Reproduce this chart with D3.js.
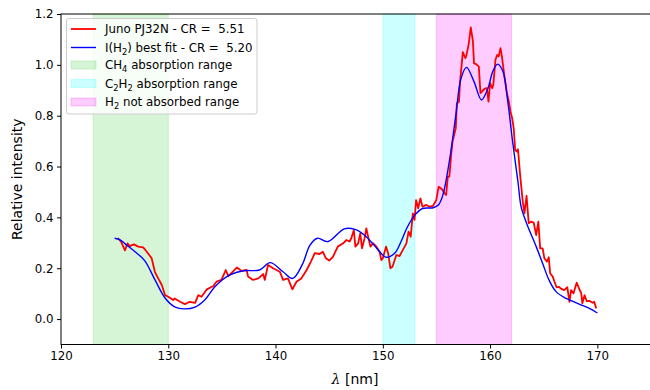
<!DOCTYPE html>
<html>
<head>
<meta charset="utf-8">
<script src="https://cdn.jsdelivr.net/npm/d3@7"></script>
<style>
  body { margin: 0; background: #fff; }
  text { font-family: "DejaVu Sans", sans-serif; }
</style>
</head>
<body>
<svg id="chart" width="650" height="390"></svg>
<script>
// Juno PJ32N spectrum (red)
var junoLambda = [125.3, 125.6, 125.96, 126.2, 126.4, 126.8, 127.2, 127.66, 128.0, 128.45,
  128.75, 129.06, 129.4, 129.7, 130.0, 130.46, 130.6, 131.1, 131.55, 132.0,
  132.5, 132.8, 133.1, 133.6, 134.2, 134.5, 134.96, 135.36, 135.6, 136.0,
  136.4, 136.8, 137.3, 137.44, 137.9, 138.4, 138.84, 139.0, 139.3, 139.77,
  140.4, 140.7, 141.16, 141.57, 141.95, 142.4, 142.9, 143.3, 143.65, 144.1,
  144.4, 144.7, 145.0, 145.35, 145.8, 146.3, 146.6, 146.9, 147.06, 147.3,
  147.44, 147.7, 147.9, 148.06, 148.3, 148.46, 148.6, 148.84, 149.1, 149.4,
  149.7, 149.86, 150.0, 150.3, 150.5, 150.7, 150.9, 151.26, 151.56, 151.87,
  152.2, 152.4, 152.6, 152.8, 152.96, 153.1, 153.3, 153.5, 153.7, 154.05,
  154.36, 154.67, 154.98, 155.2, 155.5, 155.75, 155.9, 156.06, 156.2, 156.4,
  156.5, 156.8, 156.9, 157.1, 157.2, 157.46, 157.7, 157.8, 158.0, 158.2,
  158.4, 158.5, 158.7, 158.95, 159.1, 159.3, 159.5, 159.7, 159.85, 160.0,
  160.2, 160.3, 160.5, 160.66, 160.8, 160.97, 161.1, 161.34, 161.56, 161.75,
  161.9, 162.06, 162.2, 162.34, 162.5, 162.6, 162.8, 163.05, 163.2, 163.4,
  163.6, 163.8, 164.07, 164.3, 164.5, 164.67, 164.9, 165.06, 165.3, 165.47,
  165.6, 165.84, 166.0, 166.2, 166.4, 166.6, 166.9, 167.2, 167.4, 167.55,
  167.77, 168.07, 168.3, 168.5, 168.6, 168.8, 169.0, 169.25, 169.56, 169.7,
  169.9];
var junoIntensity = [0.318, 0.305, 0.27, 0.298, 0.287, 0.294, 0.285, 0.282, 0.265, 0.239,
  0.186, 0.16, 0.134, 0.094, 0.088, 0.075, 0.081, 0.068, 0.059, 0.068,
  0.064, 0.094, 0.088, 0.117, 0.13, 0.147, 0.154, 0.193, 0.169, 0.186,
  0.203, 0.19, 0.193, 0.167, 0.154, 0.16, 0.177, 0.154, 0.213, 0.2,
  0.186, 0.154, 0.16, 0.117, 0.147, 0.16, 0.193, 0.226, 0.259, 0.256,
  0.265, 0.239, 0.23, 0.245, 0.285, 0.298, 0.311, 0.305, 0.318, 0.35,
  0.285, 0.298, 0.337, 0.278, 0.318, 0.357, 0.33, 0.285, 0.298, 0.285,
  0.265, 0.232, 0.239, 0.285, 0.259, 0.2, 0.206, 0.252, 0.248, 0.272,
  0.298, 0.344, 0.324, 0.416, 0.39, 0.468, 0.436, 0.475, 0.442, 0.449,
  0.442, 0.445, 0.468, 0.52, 0.512, 0.495, 0.488, 0.56, 0.56, 0.659,
  0.698, 0.75, 0.849, 0.855, 0.934, 1.05, 1.026, 1.039, 1.079, 1.147,
  1.092, 1.006, 1.003, 0.993, 0.889, 0.898, 0.906, 0.908, 0.855, 0.928,
  0.908, 0.921, 1.02, 1.039, 1.033, 1.066, 1.033, 0.954, 0.889, 0.855,
  0.816, 0.79, 0.75, 0.665, 0.659, 0.668, 0.567, 0.46, 0.416, 0.485,
  0.377, 0.383, 0.379, 0.33, 0.383, 0.278, 0.278, 0.239, 0.226, 0.243,
  0.18, 0.167, 0.147, 0.125, 0.127, 0.12, 0.114, 0.125, 0.068, 0.114,
  0.101, 0.143, 0.12, 0.101, 0.062, 0.094, 0.071, 0.072, 0.064, 0.068,
  0.042];

// I(H2) best fit (blue)
var fitLambda = [125.0, 125.5, 126.0, 126.9, 127.8, 128.75, 129.7, 130.6, 131.5, 132.5,
  133.4, 134.3, 135.0, 135.7, 137.0, 138.5, 139.5, 140.7, 141.6, 142.5,
  143.2, 143.9, 144.9, 146.4, 147.4, 148.3, 149.2, 149.9, 150.3, 151.1,
  151.7, 152.3, 153.0, 153.7, 154.7, 155.2, 155.6, 156.2, 156.8, 157.3,
  157.8, 158.5, 159.2, 159.8, 160.25, 160.7, 161.2, 161.65, 162.1, 162.6,
  162.9, 163.4, 164.3, 164.9, 165.5, 166.15, 167.1, 168.3, 169.25, 170.0];
var fitIntensity = [0.318, 0.312, 0.295, 0.265, 0.23, 0.155, 0.083, 0.048, 0.040, 0.047,
  0.075, 0.125, 0.153, 0.173, 0.190, 0.193, 0.222, 0.186, 0.160, 0.215,
  0.29, 0.318, 0.305, 0.355, 0.353, 0.33, 0.29, 0.256, 0.243, 0.259,
  0.305, 0.363, 0.41, 0.435, 0.438, 0.45, 0.488, 0.62, 0.80, 0.948,
  0.99, 0.934, 0.862, 0.908, 0.974, 1.003, 0.974, 0.855, 0.698, 0.54,
  0.44, 0.377, 0.285, 0.219, 0.153, 0.108, 0.081, 0.059, 0.042, 0.024];

// shaded wavelength ranges
var spanNames = ["CH4", "C2H2", "H2"];
var spanStart = [123, 150, 155];
var spanEnd = [130, 153, 162];
var spanColors = ["limegreen", "cyan", "magenta"];

var xTicks = [120, 130, 140, 150, 160, 170];
var yTicks = [0.0, 0.2, 0.4, 0.6, 0.8, 1.0, 1.2];

var padL = 61, padR = 651, padT = 14, padB = 344.5;

var svg = d3.select("#chart");

var x = d3.scaleLinear().domain([120, 175]).range([padL, padR]);
var y = d3.scaleLinear().domain([-0.1, 1.2]).range([padB, padT]);

//spans
svg.selectAll("rect.span")
   .data(spanNames)
   .enter()
   .append("rect")
   .attr("class", "span")
   .attr("x", function(d, i) { return x(spanStart[i]); })
   .attr("y", padT)
   .attr("width", function(d, i) { return x(spanEnd[i]) - x(spanStart[i]); })
   .attr("height", padB - padT)
   .attr("fill", function(d, i) { return spanColors[i]; })
   .attr("fill-opacity", 0.2)
   .attr("stroke", function(d, i) { return spanColors[i]; })
   .attr("stroke-opacity", 0.2)
   .attr("stroke-width", 1);

var junoData = junoLambda.map(function(d, i) { return [d, junoIntensity[i]]; });
var fitData = fitLambda.map(function(d, i) { return [d, fitIntensity[i]]; });

var lineStraight = d3.line()
   .x(function(d) { return x(d[0]); })
   .y(function(d) { return y(d[1]); });

var lineSmooth = d3.line()
   .curve(d3.curveCatmullRom.alpha(0.5))
   .x(function(d) { return x(d[0]); })
   .y(function(d) { return y(d[1]); });

svg.append("path")
   .datum(junoData)
   .attr("d", lineStraight)
   .attr("fill", "none")
   .attr("stroke", "#ff0000")
   .attr("stroke-width", 1.8)
   .attr("stroke-linejoin", "round");

svg.append("path")
   .datum(fitData)
   .attr("d", lineSmooth)
   .attr("fill", "none")
   .attr("stroke", "#0000ff")
   .attr("stroke-width", 1.4);

//axes
var xAxis = d3.axisBottom(x).tickValues(xTicks).tickSize(4).tickPadding(3.5)
   .tickFormat(d3.format("d"));
var yAxis = d3.axisLeft(y).tickValues(yTicks).tickSize(4).tickPadding(3.5)
   .tickFormat(d3.format(".1f"));

var gx = svg.append("g").attr("transform", "translate(0," + padB + ")").call(xAxis);
var gy = svg.append("g").attr("transform", "translate(" + padL + ",0)").call(yAxis);

[gx, gy].forEach(function(g) {
    g.select(".domain").remove();
    g.selectAll("line").attr("stroke", "#000").attr("stroke-width", 1);
    g.selectAll("text")
     .attr("font-family", "DejaVu Sans, sans-serif")
     .attr("font-size", "11.8px")
     .attr("fill", "#000");
});

//frame
svg.append("rect")
   .attr("x", padL).attr("y", padT)
   .attr("width", padR - padL).attr("height", padB - padT)
   .attr("fill", "none")
   .attr("stroke", "#000")
   .attr("stroke-width", 1);

//axis labels
svg.append("text")
   .attr("x", (padL + padR) / 2 - 1)
   .attr("y", 384)
   .attr("text-anchor", "middle")
   .attr("font-size", "14px")
   .html('<tspan font-style="italic" font-family="DejaVu Serif, serif">λ</tspan> [nm]');

svg.append("text")
   .attr("transform", "translate(22," + (padT + padB) / 2 + ") rotate(-90)")
   .attr("text-anchor", "middle")
   .attr("font-size", "14px")
   .text("Relative intensity");

//legend
var lg = svg.append("g");
lg.append("rect")
  .attr("x", 66.5).attr("y", 18.5)
  .attr("width", 190.5).attr("height", 95.5)
  .attr("rx", 2.5)
  .attr("fill", "#fff").attr("fill-opacity", 0.8)
  .attr("stroke", "#cccccc").attr("stroke-width", 1);

var rowY = [29, 47.5, 65, 83.5, 102];
var labels = [
  'Juno PJ32N - CR =  5.51',
  'I(H<tspan font-size="8.3px" dy="3">2</tspan><tspan dy="-3">) best fit - CR =  5.20</tspan>',
  'CH<tspan font-size="8.3px" dy="3">4</tspan><tspan dy="-3"> absorption range</tspan>',
  'C<tspan font-size="8.3px" dy="3">2</tspan><tspan dy="-3">H</tspan><tspan font-size="8.3px" dy="3">2</tspan><tspan dy="-3"> absorption range</tspan>',
  'H<tspan font-size="8.3px" dy="3">2</tspan><tspan dy="-3"> not absorbed range</tspan>'
];

lg.append("line").attr("x1", 71).attr("x2", 96).attr("y1", rowY[0]).attr("y2", rowY[0])
  .attr("stroke", "#ff0000").attr("stroke-width", 1.8);
lg.append("line").attr("x1", 71).attr("x2", 96).attr("y1", rowY[1]).attr("y2", rowY[1])
  .attr("stroke", "#0000ff").attr("stroke-width", 1.4);

lg.selectAll("rect.patch")
  .data(spanColors)
  .enter()
  .append("rect")
  .attr("class", "patch")
  .attr("x", 71)
  .attr("y", function(d, i) { return rowY[i + 2] - 4; })
  .attr("width", 25).attr("height", 8)
  .attr("fill", function(d) { return d; })
  .attr("fill-opacity", 0.2)
  .attr("stroke", function(d) { return d; })
  .attr("stroke-opacity", 0.2);

lg.selectAll("text")
  .data(labels)
  .enter()
  .append("text")
  .attr("x", 105)
  .attr("y", function(d, i) { return rowY[i] + 4.2; })
  .attr("font-size", "11.8px")
  .attr("xml:space", "preserve")
  .style("white-space", "pre")
  .html(function(d) { return d; });
</script>
</body>
</html>
